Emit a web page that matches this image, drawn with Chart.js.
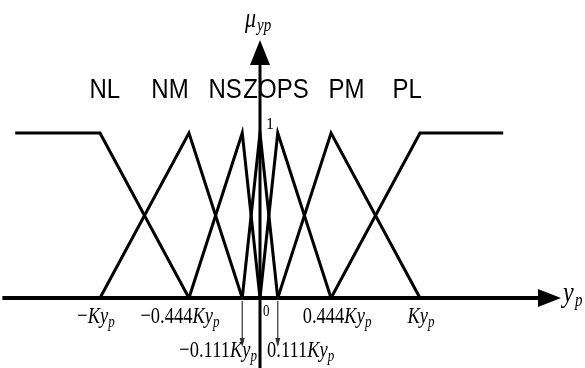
<!DOCTYPE html>
<html>
<head>
<meta charset="utf-8">
<script src="https://cdn.jsdelivr.net/npm/chart.js@4"></script>
<style>
  body { margin: 0; background: #fff; }
  #wrap { width: 585px; height: 368px; }
</style>
</head>
<body>
<div id="wrap"><canvas id="chart-mf--chart" width="585" height="368"></canvas></div>
<script>
// fuzzy sets for y_p (x values in units of K*y_p)
const termLabels = ['NL', 'NM', 'NS', 'ZO', 'PS', 'PM', 'PL'];
const peakX = [-1, -0.444, -0.111, 0, 0.111, 0.444, 1];
const shoulderX = [-1.53, 1.52];

// axis tick labels
const tickValues = [-1, -0.444, -0.111, 0, 0.111, 0.444, 1];
const tickNumbers = ['\u2212', '\u22120.444', '\u22120.111', '0', '0.111', '0.444', ''];

// build one polyline per term from the breakpoints
const datasets_mf = termLabels.map(function (name, i) {
    let pts;
    if (i === 0) {
        pts = [{x: shoulderX[0], y: 1}, {x: peakX[0], y: 1}, {x: peakX[1], y: 0}];
    } else if (i === termLabels.length - 1) {
        pts = [{x: peakX[i - 1], y: 0}, {x: peakX[i], y: 1}, {x: shoulderX[1], y: 1}];
    } else {
        pts = [{x: peakX[i - 1], y: 0}, {x: peakX[i], y: 1}, {x: peakX[i + 1], y: 0}];
    }
    return {
        label: name,
        data: pts,
        showLine: true,
        borderColor: '#000',
        borderWidth: 3,
        pointRadius: 0,
        borderJoinStyle: 'miter',
        fill: false,
    };
});

const serif = '"Liberation Serif", "DejaVu Serif", serif';
const sans = '"Liberation Sans", Arial, sans-serif';

// draw "num" upright + "Ky" italic + subscript p (stretched a bit vertically like the original)
function mathLabel(ctx, x, y, num, withK, align) {
    const fs = 18.5;
    const parts = [];
    if (num) parts.push({t: num, f: fs + 'px ' + serif, dy: 0});
    if (withK) {
        parts.push({t: 'Ky', f: 'italic ' + fs + 'px ' + serif, dy: 0});
        parts.push({t: 'p', f: 'italic 13px ' + serif, dy: 4});
    }
    let w = 0;
    parts.forEach(function (p) { ctx.font = p.f; p.w = ctx.measureText(p.t).width; w += p.w; });
    let cx = align === 'right' ? x - w : (align === 'left' ? x : x - w / 2);
    ctx.save();
    ctx.translate(0, y);
    ctx.scale(1, 1.3);
    ctx.textBaseline = 'middle';
    ctx.textAlign = 'left';
    parts.forEach(function (p) {
        ctx.font = p.f;
        ctx.fillText(p.t, cx, p.dy);
        cx += p.w;
    });
    ctx.restore();
}

const axesPlugin = {
    id: 'mfAxes',
    afterDraw(chart) {
        const ctx = chart.ctx;
        const xs = chart.scales.x;
        const ys = chart.scales.y;
        const X = v => xs.getPixelForValue(v);
        const Y = v => ys.getPixelForValue(v);
        const y0 = Y(0);
        const x0 = X(0);
        ctx.save();
        ctx.fillStyle = '#000';
        ctx.strokeStyle = '#000';

        // horizontal axis with arrow
        ctx.lineWidth = 4;
        ctx.beginPath();
        ctx.moveTo(X(-1.61), y0);
        ctx.lineTo(540, y0);
        ctx.stroke();
        ctx.beginPath();
        ctx.moveTo(561, y0);
        ctx.lineTo(538, y0 - 9);
        ctx.lineTo(538, y0 + 9);
        ctx.closePath();
        ctx.fill();

        // vertical axis with arrow
        ctx.lineWidth = 3;
        ctx.beginPath();
        ctx.moveTo(x0, 368);
        ctx.lineTo(x0, 62);
        ctx.stroke();
        ctx.beginPath();
        ctx.moveTo(x0, 40);
        ctx.lineTo(x0 - 10, 65);
        ctx.lineTo(x0 + 10, 65);
        ctx.closePath();
        ctx.fill();

        // axis titles
        ctx.textBaseline = 'middle';
        ctx.textAlign = 'left';
        ctx.save();
        ctx.translate(0, 20);
        ctx.scale(1, 1.2);
        ctx.font = 'italic 22px ' + serif;
        ctx.fillText('\u03bc', x0 - 15, 0);
        ctx.font = 'italic 15px ' + serif;
        ctx.fillText('yp', x0 - 3, 5);
        ctx.restore();
        ctx.save();
        ctx.translate(0, 294);
        ctx.scale(1, 1.2);
        ctx.font = 'italic 24px ' + serif;
        ctx.fillText('y', 563, 0);
        ctx.font = 'italic 15px ' + serif;
        ctx.fillText('p', 575, 6);
        ctx.restore();
        ctx.font = '16px ' + serif;
        ctx.fillText('1', x0 + 6, 125);

        // term names
        const nameX = [-0.97, -0.5625, -0.218, 0, 0.205, 0.54, 0.92];
        ctx.save();
        ctx.translate(0, 90);
        ctx.scale(1, 1.15);
        ctx.font = '24px ' + sans;
        ctx.textAlign = 'center';
        termLabels.forEach(function (t, i) { ctx.fillText(t, X(nameX[i]), 0); });
        ctx.restore();

        // tick labels
        const dx = [-4, -9, 0, 0, 0, 6, 1];
        tickValues.forEach(function (v, i) {
            const px = X(v);
            if (v === 0) {
                ctx.save();
                ctx.translate(0, 312);
                ctx.scale(1, 1.3);
                ctx.font = '13px ' + serif;
                ctx.textAlign = 'left';
                ctx.textBaseline = 'middle';
                ctx.fillText('0', px + 3, 0);
                ctx.restore();
            } else if (Math.abs(v) < 0.2) {
                // small arrows down to the second row
                ctx.strokeStyle = '#333';
                ctx.fillStyle = '#333';
                ctx.lineWidth = 1.2;
                ctx.beginPath();
                ctx.moveTo(px, y0 + 3);
                ctx.lineTo(px, 345);
                ctx.stroke();
                ctx.beginPath();
                ctx.moveTo(px, 347);
                ctx.lineTo(px - 2.5, 338);
                ctx.lineTo(px + 2.5, 338);
                ctx.closePath();
                ctx.fill();
                ctx.fillStyle = '#000';
                if (v < 0) mathLabel(ctx, x0 - 3, 351, tickNumbers[i], true, 'right');
                else mathLabel(ctx, x0 + 7, 351, tickNumbers[i], true, 'left');
            } else {
                mathLabel(ctx, px + dx[i], 317, tickNumbers[i], true, 'center');
            }
        });
        ctx.restore();
    }
};

const config_mf = {
    type: 'scatter',
    data: { datasets: datasets_mf },
    options: {
        responsive: false,
        animation: false,
        layout: { padding: 0 },
        scales: {
            x: { type: 'linear', min: -1.625, max: 2.03125, display: false },
            y: { type: 'linear', min: -0.4242, max: 1.806, display: false },
        },
        plugins: {
            legend: { display: false },
            tooltip: { enabled: false },
            title: { display: false },
        }
    },
    plugins: [axesPlugin]
};

var chart_mf = new Chart(
    document.getElementById('chart-mf--chart'),
    config_mf
);
</script>
</body>
</html>
